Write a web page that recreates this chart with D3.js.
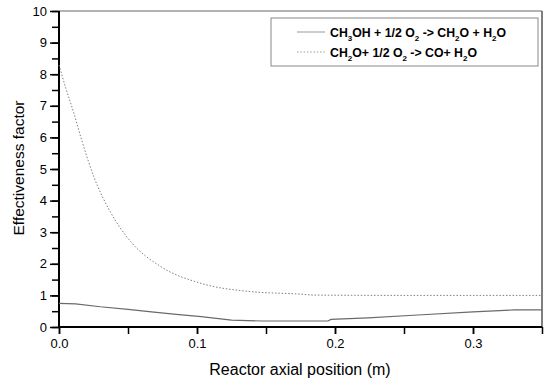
<!DOCTYPE html>
<html><head><meta charset="utf-8">
<script src="https://cdn.jsdelivr.net/npm/d3@7"></script>
<style>body{margin:0;background:#fff}svg{display:block}text{font-family:"Liberation Sans",Arial,sans-serif}</style>
</head><body><svg id="c" width="550" height="385"></svg>
<script>
const xTicks=[0.0,0.1,0.2,0.3];
const yTicks=[0,1,2,3,4,5,6,7,8,9,10];
const xLabel="Reactor axial position (m)";
const yLabel="Effectiveness factor";
const s1X=[0,0.012,0.03,0.05,0.067,0.085,0.103,0.125,0.147,0.17,0.195,0.197,0.224,0.26,0.30,0.33,0.35];
const s1Y=[0.75,0.73,0.64,0.56,0.48,0.40,0.33,0.22,0.19,0.19,0.19,0.24,0.29,0.38,0.48,0.54,0.54];
const s2X=[0,0.005,0.0108,0.0169,0.0253,0.0375,0.052,0.0738,0.103,0.139,0.175,0.185,0.25,0.30,0.35];
const s2Y=[8.29,7.55,6.76,5.85,4.75,3.62,2.70,1.91,1.38,1.12,1.04,1.01,1.0,1.0,1.0];

const svg=d3.select("#c");
const L=59,R=542,T=11,B=327;
const x=d3.scaleLinear().domain([0,0.35]).range([L,R]);
const y=d3.scaleLinear().domain([0,10]).range([B,T]);

svg.append("line").attr("x1",L).attr("x2",R).attr("y1",T).attr("y2",T).attr("stroke","#999").attr("stroke-width",1.5);
svg.append("line").attr("x1",R).attr("x2",R).attr("y1",T).attr("y2",B).attr("stroke","#555").attr("stroke-width",1.5);

const gx=svg.append("g").attr("transform",`translate(0,${B})`);
gx.call(d3.axisBottom(x).tickValues(d3.range(0,0.3501,0.05)).tickSize(7).tickFormat(""));
gx.append("g").call(d3.axisBottom(x).tickValues(xTicks).tickSize(7).tickFormat(d3.format(".1f")));
gx.selectAll("path.domain").attr("stroke","#000").attr("stroke-width",2).attr("d",`M${L},0H${R}`);
gx.selectAll(".tick line").attr("stroke","#000").attr("stroke-width",1.5);
gx.selectAll("text").attr("font-size",13).attr("fill","#000").attr("dy","0.85em");

const gy=svg.append("g").attr("transform",`translate(${L},0)`);
gy.call(d3.axisLeft(y).tickValues(d3.range(0,10.01,0.5)).tickSize(7).tickFormat(""));
gy.append("g").call(d3.axisLeft(y).tickValues(yTicks).tickSize(9).tickFormat(d3.format("d")));
gy.selectAll("path.domain").attr("stroke","#000").attr("stroke-width",2).attr("d",`M0,${B}V${T}`);
gy.selectAll(".tick line").attr("stroke","#000").attr("stroke-width",1.5);
gy.selectAll("text").attr("font-size",13).attr("fill","#000");

const line=d3.line().x(d=>x(d[0])).y(d=>y(d[1]));
svg.append("path").datum(s1X.map((v,i)=>[v,s1Y[i]])).attr("d",line).attr("fill","none").attr("stroke","#6a6a6a").attr("stroke-width",1.2);
svg.append("path").datum(s2X.map((v,i)=>[v,s2Y[i]]))
  .attr("d",line.curve(d3.curveMonotoneX)).attr("fill","none").attr("stroke","#808080").attr("stroke-width",1).attr("stroke-dasharray","1.5,1.8");

svg.append("text").attr("x",300).attr("y",375).attr("text-anchor","middle").attr("font-size",16).text(xLabel);
svg.append("text").attr("transform","translate(24,168) rotate(-90)").attr("text-anchor","middle").attr("font-size",15.5).text(yLabel);

svg.append("rect").attr("x",271).attr("y",18).attr("width",267).attr("height",48).attr("fill","#fff").attr("stroke","#888").attr("stroke-width",1);
const legend=[
 {dash:null, parts:[["CH",0],["3",1],["OH + 1/2 O",0],["2",1],[" -> CH",0],["2",1],["O + H",0],["2",1],["O",0]]},
 {dash:"1.5,1.8", parts:[["CH",0],["2",1],["O+ 1/2 O",0],["2",1],[" -> CO+ H",0],["2",1],["O",0]]}
];
legend.forEach((d,i)=>{
  const yy=32+i*20;
  svg.append("line").attr("x1",297).attr("x2",325).attr("y1",yy).attr("y2",yy).attr("stroke","#999").attr("stroke-width",1).attr("stroke-dasharray",d.dash);
  const t=svg.append("text").attr("x",330).attr("y",yy+4.5).attr("font-size",12.3).attr("font-weight","bold");
  d.parts.forEach((p,j)=>{
    const ts=t.append("tspan").text(p[0]);
    if(p[1]) ts.attr("font-size",8).attr("dy",4);
    else if(j>0 && d.parts[j-1][1]) ts.attr("dy",-4);
  });
});
</script></body></html>
